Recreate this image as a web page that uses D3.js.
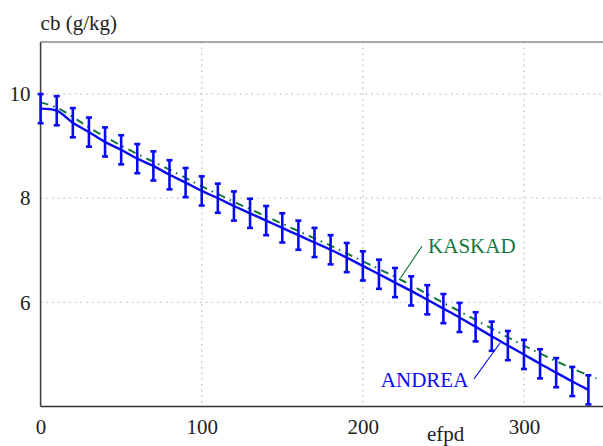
<!DOCTYPE html>
<html>
<head>
<meta charset="utf-8">
<script src="https://cdn.jsdelivr.net/npm/d3@7"></script>
<style>
  html, body { margin: 0; padding: 0; background: #fff; }
  svg { display: block; }
  svg text { font-family: 'Liberation Serif', 'Times New Roman', serif !important; font-size: 21px; }
</style>
</head>
<body>
<div id="chart"></div>
<script>
// efpd values of the ANDREA points (with error bars)
const andreaX = [0, 10, 20, 30, 40, 50, 60, 70, 80, 90, 100, 110, 120, 130, 140, 150, 160,
    170, 180, 190, 200, 210, 220, 230, 240, 250, 260, 270, 280, 290, 300, 310, 320, 330, 340];
const andreaY = [9.72, 9.68, 9.45, 9.27, 9.08, 8.93, 8.76, 8.62, 8.45, 8.30, 8.14, 8.00, 7.85,
    7.71, 7.57, 7.43, 7.29, 7.15, 7.01, 6.86, 6.70, 6.54, 6.38, 6.22, 6.05, 5.88, 5.71, 5.53,
    5.35, 5.17, 5.00, 4.82, 4.65, 4.48, 4.32];
const andreaErr = 0.28;

// KASKAD curve
const kaskadX = [0, 10, 20, 30, 40, 50, 60, 70, 80, 90, 100, 110, 120, 130, 140, 150, 160,
    170, 180, 190, 200, 210, 220, 230, 240, 250, 260, 270, 280, 290, 300, 310, 320, 330, 340, 345];
const kaskadY = [9.84, 9.74, 9.56, 9.36, 9.18, 9.01, 8.85, 8.70, 8.55, 8.39, 8.23, 8.08, 7.93,
    7.79, 7.65, 7.51, 7.37, 7.23, 7.09, 6.94, 6.79, 6.64, 6.49, 6.33, 6.16, 5.99, 5.83, 5.66,
    5.50, 5.33, 5.17, 5.02, 4.87, 4.73, 4.60, 4.54];

const xTicks = [0, 100, 200, 300];
const yTicks = [6, 8, 10];

var width = 603, height = 446;
var margin = {top: 42, left: 40.6, bottom: 39.5};

var svg = d3.select("#chart")
    .append("svg")
    .attr("width", width)
    .attr("height", height)
    .attr("font-family", "Liberation Serif");

var x = d3.scaleLinear().domain([0, 350]).range([margin.left, margin.left + 563.9]);
var y = d3.scaleLinear().domain([4, 11]).range([height - margin.bottom, margin.top]);

// grid
svg.append("g").selectAll("line.gx")
    .data(xTicks.filter(d => d > 0))
    .enter().append("line")
    .attr("x1", d => x(d)).attr("x2", d => x(d))
    .attr("y1", y(11)).attr("y2", y(4))
    .attr("stroke", "#bdbdbd").attr("stroke-width", 1.3)
    .attr("stroke-dasharray", "1.5,4.2");

svg.append("g").selectAll("line.gy")
    .data(yTicks)
    .enter().append("line")
    .attr("x1", x(0)).attr("x2", width)
    .attr("y1", d => y(d)).attr("y2", d => y(d))
    .attr("stroke", "#bdbdbd").attr("stroke-width", 1.3)
    .attr("stroke-dasharray", "1.5,4.2");

// frame
svg.append("line")
    .attr("x1", x(0)).attr("x2", width)
    .attr("y1", y(11)).attr("y2", y(11))
    .attr("stroke", "#8a8a8a").attr("stroke-width", 1.5);

// axes (no tick marks, labels only)
var xAxis = svg.append("g")
    .attr("transform", "translate(0," + y(4) + ")")
    .call(d3.axisBottom(x).tickValues(xTicks).tickSize(0).tickPadding(13).tickFormat(d3.format("d")));
xAxis.attr("font-family", null).attr("font-size", null);
xAxis.select(".domain").attr("stroke", "#333").attr("stroke-width", 1.6)
    .attr("d", "M" + x(0) + ",0H" + width);

var yAxis = svg.append("g")
    .attr("transform", "translate(" + x(0) + ",0)")
    .call(d3.axisLeft(y).tickValues(yTicks).tickSize(0).tickPadding(10).tickFormat(d3.format("d")));
yAxis.attr("font-family", null).attr("font-size", null);
yAxis.select(".domain").attr("stroke", "#444").attr("stroke-width", 1.6)
    .attr("d", "M0," + y(11) + "V" + y(4));

svg.selectAll(".tick text").attr("fill", "#222");

// axis titles
svg.append("text")
    .attr("x", x(0)).attr("y", 30)
    .attr("fill", "#222")
    .text("cb (g/kg)");

svg.append("text")
    .attr("x", 427).attr("y", 441)
    .attr("fill", "#222")
    .text("efpd");

// KASKAD dash-dot line
var kaskad = kaskadX.map((d, i) => [d, kaskadY[i]]);
svg.append("path")
    .datum(kaskad)
    .attr("fill", "none")
    .attr("stroke", "#15773a")
    .attr("stroke-width", 2)
    .attr("stroke-dasharray", "8,5,1.6,5.4")
    .attr("d", d3.line().x(d => x(d[0])).y(d => y(d[1])).curve(d3.curveCatmullRom));

// ANDREA line + error bars
var andrea = andreaX.map((d, i) => [d, andreaY[i]]);
svg.append("path")
    .datum(andrea)
    .attr("fill", "none")
    .attr("stroke", "#0a0af0")
    .attr("stroke-width", 2.4)
    .attr("d", d3.line().x(d => x(d[0])).y(d => y(d[1])).curve(d3.curveCatmullRom));

var bars = svg.append("g").attr("stroke", "#0a0af0").attr("stroke-width", 2.6);
bars.selectAll("line.v")
    .data(andrea).enter().append("line")
    .attr("x1", d => x(d[0])).attr("x2", d => x(d[0]))
    .attr("y1", d => y(d[1] + andreaErr)).attr("y2", d => y(d[1] - andreaErr));
bars.selectAll("line.top")
    .data(andrea).enter().append("line")
    .attr("x1", d => x(d[0]) - 3).attr("x2", d => x(d[0]) + 3)
    .attr("y1", d => y(d[1] + andreaErr)).attr("y2", d => y(d[1] + andreaErr));
bars.selectAll("line.bot")
    .data(andrea).enter().append("line")
    .attr("x1", d => x(d[0]) - 3).attr("x2", d => x(d[0]) + 3)
    .attr("y1", d => y(d[1] - andreaErr)).attr("y2", d => y(d[1] - andreaErr));

// labels with pointers (data units)
svg.append("line")
    .attr("x1", x(236.7)).attr("y1", y(7.08))
    .attr("x2", x(223.5)).attr("y2", y(6.47))
    .attr("stroke", "#15773a").attr("stroke-width", 1.1);
svg.append("text")
    .attr("x", x(240.5)).attr("y", y(6.95))
    .attr("fill", "#15773a")
    .text("KASKAD");

svg.append("line")
    .attr("x1", x(269)).attr("y1", y(4.53))
    .attr("x2", x(285.2)).attr("y2", y(5.22))
    .attr("stroke", "#0a0af0").attr("stroke-width", 1.1);
svg.append("text")
    .attr("x", x(211.2)).attr("y", y(4.37))
    .attr("fill", "#0a0af0")
    .text("ANDREA");
</script>
</body>
</html>
